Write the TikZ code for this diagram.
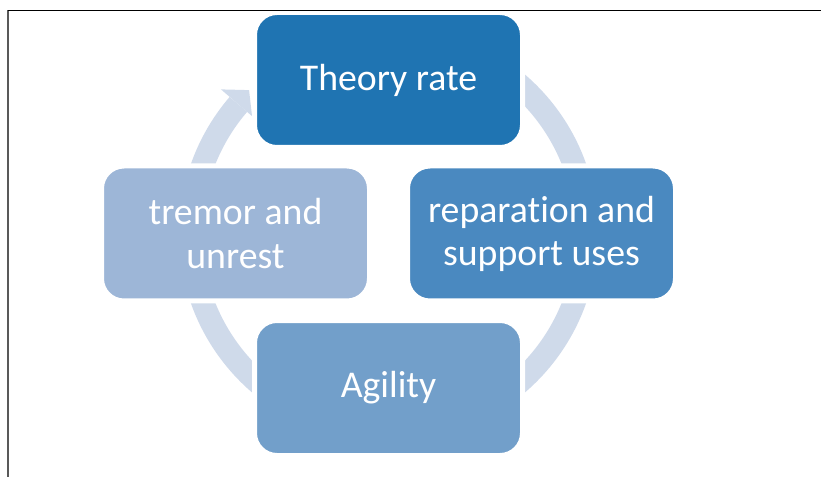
\documentclass[tikz,border=0pt]{standalone}
\usepackage{fontspec}
\setmainfont{Carlito}[Ligatures=NoCommon]
\usetikzlibrary{positioning}

\definecolor{themetop}{RGB}{31,116,178}
\definecolor{themeright}{RGB}{74,137,192}
\definecolor{themebottom}{RGB}{114,159,202}
\definecolor{themeleft}{RGB}{157,182,215}
\definecolor{ringblue}{RGB}{207,218,234}

\begin{document}
\begin{tikzpicture}[
    phase/.style={rectangle, rounded corners=0.45cm, draw=white, line width=0.1cm,
      minimum width=5.36cm, minimum height=2.7cm, text=white, align=center,
      font=\fontsize{21.5}{24.5}\selectfont},
    ring/.style={draw=ringblue, line width=0.46cm}]
  \useasboundingbox (0,0) rectangle (16.42,9.52);
  \coordinate (c) at (7.77,4.85);
  % cycle ring behind the boxes
  \draw[ring] (c) ++(185:3.96) arc[start angle=185, end angle=139.3, radius=3.96];
  \fill[ringblue, shift={(c)}] (139.3:3.6) -- (134.2:4.0) -- (139.3:4.42) -- cycle;
  \draw[ring] (c) ++(90:3.96) arc[start angle=90, end angle=-180, radius=3.96];
  \node [phase, fill=themetop, above=1.67cm of c] (theory) {Theory rate};
  \node [phase, fill=themeright, right=0.33cm of c] (repair) {reparation and\\support uses};
  \node [phase, fill=themebottom, below=1.69cm of c] (agility) {Agility};
  \node [phase, fill=themeleft, left=0.33cm of c] (tremor) {tremor and\\unrest};
  % frame lines
  \draw[black!65, line width=0.6pt] (0.16,-0.1) -- (0.16,9.31);
  \draw[line width=0.6pt] (0.16,9.31) -- (16.5,9.31);
\end{tikzpicture}
\end{document}
